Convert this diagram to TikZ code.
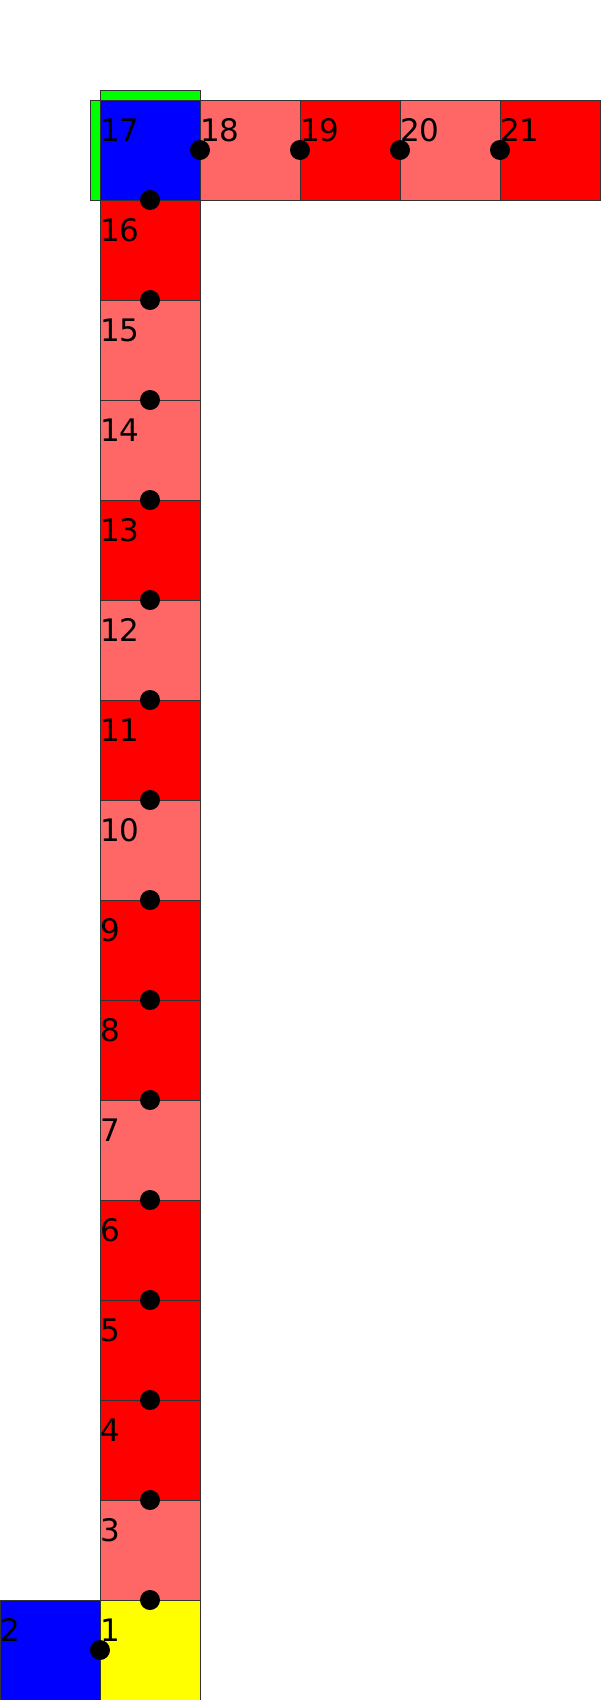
\documentclass[tikz,border=0pt]{standalone}
\usepackage{fontspec}
\setmainfont{DejaVu Sans}
\usepackage{tikz}
\usetikzlibrary{positioning}
\definecolor{cellred}{HTML}{FF0000}
\definecolor{celllight}{HTML}{FF6666}
\definecolor{cellblue}{HTML}{0000FF}
\definecolor{cellyellow}{HTML}{FFFF00}
\definecolor{barcolor}{HTML}{00FF00}

\begin{document}
\begin{tikzpicture}[x=1pt, y=-1pt,
  cell/.style={draw=black!80, line width=1pt, minimum size=100pt, inner sep=0pt, outer sep=0pt},
  numlabel/.style={font=\fontsize{31}{33}\selectfont, inner sep=0pt, anchor=base west},
  dot/.style={circle, fill=black, minimum size=20pt, inner sep=0pt}]
\useasboundingbox (0,0) rectangle (600,1700);
% Striscia verde del blocco 17
\draw[draw=black!80, line width=1pt, fill=barcolor] (100,90) rectangle (200,100);
\draw[draw=black!80, line width=1pt, fill=barcolor] (90,100) rectangle (100,200);
% Colonna 17..3
\node[cell, fill=cellblue] (c17) at (150,150) {};
\foreach \n/\col in {16/cellred, 15/celllight, 14/celllight, 13/cellred, 12/celllight,
  11/cellred, 10/celllight, 9/cellred, 8/cellred, 7/celllight, 6/cellred, 5/cellred,
  4/cellred, 3/celllight}{
  \node[cell, fill=\col] (c\n) at (150,{150+(17-\n)*100}) {};
}
% Base
\node[cell, fill=cellyellow] (c1) at (150,1650) {};
\node[cell, fill=cellblue, left=0pt of c1] (c2) {};
% Riga in alto
\foreach \n/\col in {18/celllight, 19/cellred, 20/celllight, 21/cellred}{
  \node[cell, fill=\col] (c\n) at ({250+(\n-18)*100},150) {};
}
% Numeri
\foreach \n in {1,...,21}{
  \node[numlabel] (t\n) at ([yshift=-41pt]c\n.north west) {\n};
}
% Punti di ingresso
\node[dot] (d2) at (c2.east) {};
\node[dot] (d3) at (c3.south) {};
\foreach \n in {4,...,17}{
  \node[dot] (d\n) at (c\n.south) {};
}
\foreach \n in {18,...,21}{
  \node[dot] (d\n) at (c\n.west) {};
}
\end{tikzpicture}
\end{document}
